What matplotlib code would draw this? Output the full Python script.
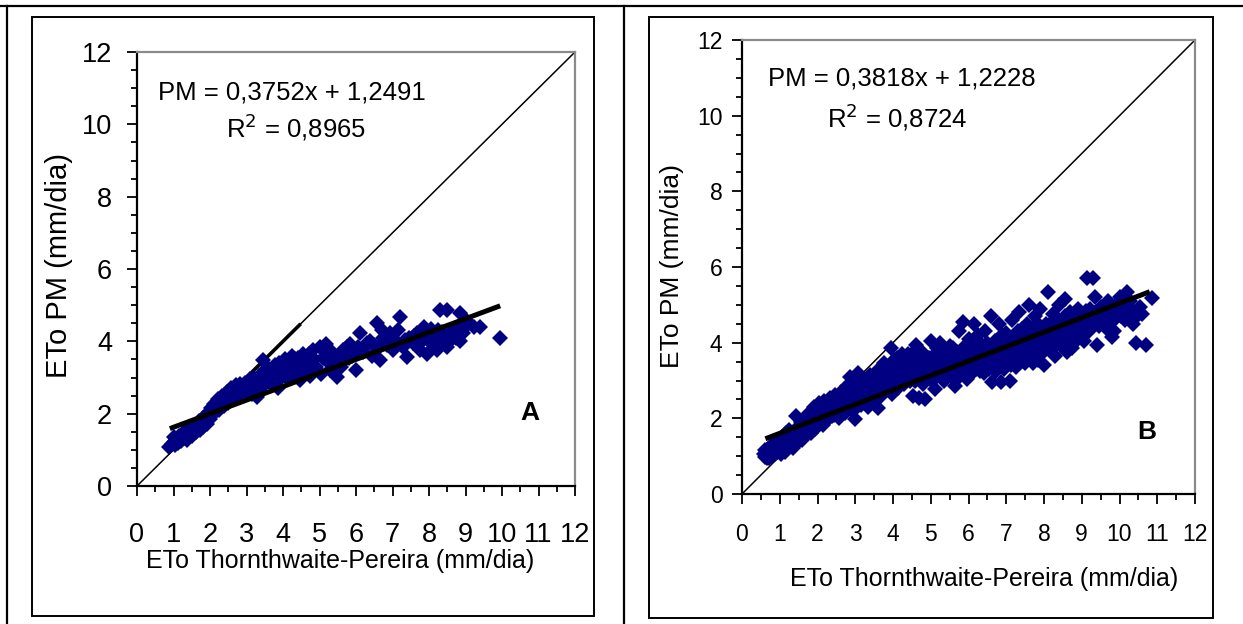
"""Two scatter panels: ETo Penman-Monteith vs ETo Thornthwaite-Pereira (A and B)."""

import matplotlib

matplotlib.use("Agg")
import matplotlib.pyplot as plt
from matplotlib.lines import Line2D
from matplotlib.patches import Rectangle
from matplotlib.ticker import MultipleLocator

plt.rcParams["font.family"] = ["Liberation Sans", "DejaVu Sans"]

# panel A points (x = ETo Thornthwaite-Pereira, y = ETo PM)
A_POINTS = [
    (0.88, 1.08), (0.95, 1.15), (1.0, 1.22), (1.05, 1.12), (1.08, 1.3), (1.12, 1.2), (1.15, 1.38),
    (1.2, 1.25), (1.22, 1.42), (1.28, 1.32), (1.3, 1.5), (1.35, 1.4), (1.38, 1.28), (1.42, 1.55),
    (1.45, 1.45), (1.5, 1.62), (1.52, 1.38), (1.56, 1.52), (1.6, 1.7), (1.62, 1.48), (1.66, 1.6),
    (1.7, 1.8), (1.72, 1.55), (1.76, 1.7), (1.8, 1.88), (1.82, 1.62), (1.86, 1.78), (1.9, 1.95),
    (1.92, 1.72), (1.96, 2.05), (2.0, 1.85), (2.04, 2.15), (2.06, 1.95), (2.1, 2.28), (2.14, 2.05),
    (2.18, 2.2), (2.22, 2.4), (2.25, 2.1), (2.3, 2.3), (2.34, 2.5), (2.38, 2.2), (2.42, 2.42),
    (2.46, 2.6), (2.5, 2.3), (2.54, 2.5), (2.58, 2.7), (2.62, 2.4), (2.66, 2.62), (2.7, 2.78),
    (2.74, 2.5), (2.78, 2.68), (2.82, 2.82), (2.86, 2.55), (2.9, 2.72), (2.95, 2.85), (3.0, 2.6),
    (3.05, 2.75), (3.1, 2.95), (3.15, 2.55), (3.2, 3.0), (3.28, 2.47), (3.3, 2.8), (3.35, 3.05),
    (3.4, 2.7), (3.46, 3.48), (3.5, 2.9), (3.55, 3.1), (3.6, 3.25), (3.64, 2.85), (3.7, 3.0),
    (3.75, 3.3), (3.8, 3.15), (3.85, 2.7), (3.9, 3.4), (3.95, 3.0), (4.0, 3.3), (4.05, 3.5),
    (4.1, 3.2), (4.15, 2.95), (4.2, 3.45), (4.25, 3.6), (4.3, 3.3), (4.35, 3.05), (4.4, 3.55),
    (4.47, 2.93), (4.5, 3.4), (4.56, 3.66), (4.6, 3.2), (4.7, 3.5), (4.75, 3.05), (4.83, 3.75),
    (4.9, 3.3), (5.0, 3.84), (5.05, 3.1), (5.1, 3.55), (5.19, 3.94), (5.25, 3.4), (5.29, 3.2),
    (5.35, 3.7), (5.47, 3.02), (5.5, 3.5), (5.6, 3.3), (5.65, 3.75), (5.74, 3.84), (5.8, 3.55),
    (5.83, 3.94), (5.9, 3.6), (6.0, 3.2), (6.05, 3.85), (6.11, 4.22), (6.2, 3.7), (6.3, 3.95),
    (6.38, 4.02), (6.45, 3.6), (6.57, 4.5), (6.62, 3.85), (6.66, 3.48), (6.75, 4.1), (6.85, 3.9),
    (6.93, 4.22), (7.0, 3.75), (7.1, 4.0), (7.21, 4.68), (7.3, 3.85), (7.39, 3.57), (7.45, 4.1),
    (7.55, 3.95), (7.67, 4.22), (7.75, 3.75), (7.85, 4.41), (7.94, 3.66), (8.0, 4.1), (8.1, 3.9),
    (8.21, 3.75), (8.25, 4.3), (8.3, 4.87), (8.4, 4.0), (8.48, 4.87), (8.5, 3.85), (8.57, 4.02),
    (8.65, 4.3), (8.75, 4.1), (8.85, 4.78), (8.9, 4.45), (8.94, 4.22), (9.0, 4.6), (9.22, 4.41),
    (9.4, 4.41), (9.95, 4.09),
    (1.0, 1.35), (1.1, 1.25), (1.18, 1.32), (1.25, 1.45), (1.4, 1.35), (1.48, 1.55), (1.58, 1.6),
    (1.68, 1.72), (1.78, 1.78), (1.88, 1.88), (1.98, 1.95), (2.08, 2.1), (2.2, 2.3), (2.32, 2.4),
    (2.44, 2.5), (2.56, 2.6), (2.68, 2.7), (2.8, 2.7), (3.12, 2.85), (3.25, 2.75), (3.38, 2.95),
    (3.52, 3.2), (3.66, 3.1), (3.78, 3.35), (3.92, 3.2), (4.02, 3.1), (4.12, 3.4), (4.22, 3.3),
    (4.32, 3.5), (4.42, 3.35), (4.52, 3.55), (4.62, 3.45), (4.72, 3.65), (4.85, 3.5), (5.15, 3.7),
    (5.4, 3.6), (5.7, 3.65), (5.95, 3.75), (6.25, 3.85), (6.5, 3.9), (6.7, 4.3), (6.95, 4.0),
    (7.15, 4.3), (7.35, 4.05), (7.6, 4.15), (7.8, 4.0), (8.05, 4.35), (8.15, 4.15), (8.35, 4.25),
    (8.6, 4.2), (8.8, 4.3), (8.85, 4.0), (9.05, 4.45),
]

# panel B points (cloud is dense, so estimated along its spread)
B_POINTS = [
    (0.58, 1.05), (0.62, 0.98), (0.65, 1.12), (0.68, 1.02), (0.7, 1.2), (0.72, 0.95), (0.75, 1.1),
    (0.78, 1.28), (0.8, 1.0), (0.83, 1.18), (0.86, 1.35), (0.88, 1.05), (0.9, 1.22), (0.93, 1.1),
    (0.96, 1.42), (0.98, 1.15), (1.0, 1.3), (1.03, 1.05), (1.06, 1.5), (1.08, 1.2), (1.1, 1.36),
    (1.13, 1.12), (1.16, 1.6), (1.18, 1.25), (1.2, 1.45), (1.24, 1.7), (1.27, 1.3), (1.3, 1.52),
    (1.34, 1.22), (1.38, 1.62), (1.42, 2.05), (1.45, 1.35), (1.48, 1.78), (1.52, 1.5), (1.55, 1.9),
    (1.6, 1.42), (1.63, 1.68), (1.67, 2.0), (1.7, 1.55), (1.74, 1.82), (1.78, 2.15), (1.82, 1.6),
    (1.85, 1.95), (1.9, 2.3), (1.93, 1.72), (1.97, 2.1), (2.0, 1.85), (2.03, 2.4), (2.07, 2.0),
    (2.1, 2.22), (2.14, 1.82), (2.18, 2.45), (2.22, 2.1), (2.26, 1.95), (2.3, 2.35), (2.34, 2.55),
    (2.38, 2.05), (2.42, 2.25), (2.46, 2.62), (2.5, 2.15), (2.54, 2.45), (2.58, 2.0), (2.62, 2.7),
    (2.66, 2.3), (2.7, 2.55), (2.74, 2.15), (2.78, 2.85), (2.82, 2.4), (2.86, 3.1), (2.9, 2.65),
    (2.94, 2.2), (2.97, 2.95), (3.0, 1.98), (3.04, 2.5), (3.08, 3.2), (3.12, 2.75), (3.16, 2.35),
    (3.2, 3.0), (3.25, 2.6), (3.3, 2.85), (3.34, 2.3), (3.38, 3.15), (3.42, 2.7), (3.46, 2.45),
    (3.5, 3.05), (3.55, 2.8), (3.6, 2.28), (3.64, 3.3), (3.68, 2.6), (3.72, 2.95), (3.76, 3.45),
    (3.8, 2.75), (3.85, 3.2), (3.9, 2.9), (3.94, 3.85), (3.97, 2.65), (4.0, 3.4), (4.05, 3.05),
    (4.1, 3.6), (4.14, 2.8), (4.18, 3.3), (4.22, 3.1), (4.26, 3.55), (4.3, 2.9), (4.35, 3.4),
    (4.4, 3.7), (4.44, 3.0), (4.48, 3.25), (4.52, 2.6), (4.56, 3.55), (4.6, 3.95), (4.64, 3.1),
    (4.68, 2.55), (4.72, 3.4), (4.76, 3.75), (4.8, 2.9), (4.85, 2.52), (4.9, 3.3), (4.95, 3.6),
    (5.0, 4.05), (5.04, 3.0), (5.08, 3.5), (5.12, 2.78), (5.16, 3.85), (5.2, 3.2), (5.25, 4.0),
    (5.3, 3.45), (5.35, 3.0), (5.4, 3.7), (5.45, 3.25), (5.5, 3.9), (5.55, 3.1), (5.6, 3.55),
    (5.65, 2.85), (5.7, 3.75), (5.75, 4.3), (5.8, 3.3), (5.85, 4.55), (5.9, 3.6), (5.95, 3.05),
    (6.0, 4.1), (6.05, 3.45), (6.1, 3.85), (6.15, 4.5), (6.2, 3.3), (6.25, 4.2), (6.3, 3.65),
    (6.35, 3.95), (6.4, 3.2), (6.45, 4.3), (6.5, 3.5), (6.55, 3.85), (6.6, 4.7), (6.62, 2.95),
    (6.66, 3.4), (6.7, 4.05), (6.75, 3.7), (6.8, 4.5), (6.85, 2.95), (6.9, 3.9), (6.95, 3.3),
    (7.0, 4.25), (7.05, 3.55), (7.1, 3.0), (7.15, 4.6), (7.2, 3.8), (7.25, 3.35), (7.3, 4.3),
    (7.35, 4.8), (7.4, 3.6), (7.45, 4.05), (7.5, 3.45), (7.55, 4.5), (7.6, 5.0), (7.65, 3.9),
    (7.7, 3.45), (7.75, 4.7), (7.8, 4.2), (7.85, 3.55), (7.9, 4.9), (7.95, 4.0), (8.0, 3.4),
    (8.05, 4.5), (8.1, 5.35), (8.15, 3.8), (8.2, 4.2), (8.25, 4.75), (8.3, 3.65), (8.35, 4.35),
    (8.4, 5.0), (8.45, 3.9), (8.5, 4.55), (8.55, 5.15), (8.6, 3.75), (8.65, 4.25), (8.7, 4.8),
    (8.75, 3.85), (8.8, 4.4), (8.85, 4.05), (8.9, 4.9), (8.95, 4.2), (9.0, 4.6), (9.05, 4.05),
    (9.1, 4.85), (9.15, 5.7), (9.2, 4.3), (9.25, 4.6), (9.3, 5.72), (9.35, 5.2), (9.4, 3.95),
    (9.45, 4.45), (9.55, 4.75), (9.6, 4.6), (9.7, 5.1), (9.8, 4.15), (9.85, 4.3), (9.9, 5.0),
    (10.0, 5.2), (10.05, 4.7), (10.15, 4.6), (10.2, 5.35), (10.3, 4.8), (10.35, 4.5), (10.45, 4.0),
    (10.55, 4.95), (10.7, 3.95), (10.85, 5.18),
    (0.6, 1.15), (0.66, 0.95), (0.74, 1.2), (0.82, 1.3), (0.92, 1.3), (1.02, 1.2), (1.12, 1.45),
    (1.22, 1.35), (1.3, 1.42), (1.36, 1.5), (1.44, 1.6), (1.5, 1.7), (1.58, 1.55), (1.65, 1.85),
    (1.72, 1.7), (1.8, 1.75), (1.88, 2.05), (1.95, 1.95), (2.02, 2.1), (2.12, 2.3), (2.2, 2.0),
    (2.28, 2.2), (2.36, 2.35), (2.44, 2.1), (2.52, 2.55), (2.6, 2.3), (2.68, 2.45), (2.76, 2.6),
    (2.84, 2.75), (2.92, 2.5), (3.02, 2.8), (3.1, 2.6), (3.18, 2.9), (3.27, 2.45), (3.36, 2.95),
    (3.44, 2.85), (3.52, 2.6), (3.6, 2.95), (3.7, 3.1), (3.78, 2.9), (3.87, 3.0), (3.96, 3.2),
    (4.04, 2.9), (4.12, 3.2), (4.2, 3.45), (4.28, 3.2), (4.36, 3.1), (4.46, 3.45), (4.54, 3.2),
    (4.62, 3.35), (4.7, 3.1), (4.78, 3.3), (4.87, 3.05), (4.95, 3.4), (5.02, 3.25), (5.1, 3.7),
    (5.18, 3.35), (5.27, 3.6), (5.36, 3.3), (5.44, 3.55), (5.52, 3.4), (5.6, 3.7), (5.68, 3.5),
    (5.76, 3.1), (5.84, 3.8), (5.92, 3.35), (6.0, 3.6), (6.08, 3.2), (6.16, 3.95), (6.24, 3.55),
    (6.32, 3.4), (6.4, 3.75), (6.48, 4.0), (6.56, 3.6), (6.64, 3.9), (6.72, 3.25), (6.8, 3.6),
    (6.88, 4.2), (6.96, 3.7), (7.04, 4.0), (7.12, 3.4), (7.2, 4.1), (7.28, 3.7), (7.36, 4.2),
    (7.44, 3.85), (7.52, 4.25), (7.6, 3.7), (7.68, 4.4), (7.76, 4.0), (7.84, 4.3), (7.92, 3.7),
    (8.0, 4.25), (8.08, 3.95), (8.16, 4.5), (8.24, 4.0), (8.32, 4.6), (8.4, 4.2), (8.48, 4.05),
    (8.56, 4.7), (8.64, 4.0), (8.72, 4.5), (8.8, 4.15), (8.88, 4.6), (8.96, 4.4), (9.04, 4.3),
    (9.12, 4.5), (9.22, 4.9), (9.32, 4.7), (9.5, 4.95), (9.65, 4.4), (9.75, 4.85), (9.95, 4.8),
    (10.1, 5.0), (10.25, 4.95), (10.4, 4.65), (10.6, 4.75),
    (0.7, 1.1), (0.85, 1.15), (1.05, 1.4), (1.15, 1.3), (1.28, 1.6), (1.4, 1.45), (1.54, 1.65),
    (1.62, 1.8), (1.76, 1.95), (1.86, 1.7), (1.98, 2.25), (2.08, 1.9), (2.16, 2.15), (2.24, 2.3),
    (2.32, 2.1), (2.4, 2.45), (2.48, 2.4), (2.56, 2.25), (2.64, 2.55), (2.72, 2.7), (2.8, 2.3),
    (2.88, 2.85), (2.96, 2.6), (3.06, 3.0), (3.14, 2.5), (3.22, 2.75), (3.32, 3.05), (3.4, 2.55),
    (3.48, 2.75), (3.58, 3.15), (3.66, 2.85), (3.74, 3.25), (3.82, 3.05), (3.92, 2.8), (4.02, 3.55),
    (4.08, 3.25), (4.16, 3.0), (4.24, 3.7), (4.32, 3.35), (4.42, 3.2), (4.5, 3.7), (4.58, 3.0),
    (4.66, 3.6), (4.74, 3.2), (4.82, 3.5), (4.92, 3.15), (5.06, 3.35), (5.14, 3.1), (5.22, 3.65),
    (5.32, 3.2), (5.42, 3.5), (5.5, 3.2), (5.58, 3.85), (5.66, 3.3), (5.74, 3.6), (5.82, 3.5),
    (5.9, 3.9), (5.98, 3.35), (6.06, 3.7), (6.14, 3.4), (6.22, 3.9), (6.3, 3.25), (6.38, 3.6),
    (6.46, 3.85), (6.54, 3.3), (6.62, 3.7), (6.7, 3.5), (6.78, 4.0), (6.86, 3.6), (6.94, 3.95),
    (7.02, 3.45), (7.1, 3.85), (7.18, 3.55), (7.26, 4.0), (7.34, 3.5), (7.42, 4.35), (7.5, 3.75),
    (7.58, 4.0), (7.66, 3.6), (7.74, 4.25), (7.82, 3.85), (7.9, 4.45), (7.98, 3.75), (8.06, 4.05),
    (8.14, 4.3), (8.22, 3.85), (8.3, 4.1), (8.38, 4.45), (8.46, 4.2), (8.54, 4.35), (8.62, 4.55),
    (8.7, 4.1), (8.78, 4.65), (8.86, 4.3), (8.94, 4.7), (9.02, 4.2), (9.1, 4.4), (9.18, 4.75),
    (9.28, 4.45), (9.38, 4.8), (9.48, 4.6), (9.58, 4.95), (9.68, 4.75), (9.78, 4.55), (9.9, 4.65),
    (10.02, 4.9), (10.12, 5.1), (10.28, 5.1),
]

# fitted lines: slope, intercept, x range of the drawn line
A_FIT = (0.3752, 1.2491)
B_FIT = (0.3818, 1.2228)
A_FIT_RANGE = (0.9, 9.95)
B_FIT_RANGE = (0.62, 10.8)
A_DIAG_THICK = (2.95, 4.45)  # short thicker stretch of the 1:1 line in panel A

A_EQUATION = ["PM = 0,3752x + 1,2491", "R$^2$ = 0,8965"]
B_EQUATION = ["PM = 0,3818x + 1,2228", "R$^2$ = 0,8724"]

AXIS_MAX = 12
X_LABEL = "ETo Thornthwaite-Pereira (mm/dia)"
Y_LABEL = "ETo PM (mm/dia)"

NAVY = "#000080"
W, H = 1243, 624


def px_rect(x0, y0, x1, y1):
    """Figure-fraction [left, bottom, width, height] from pixel corners."""
    return [x0 / W, 1 - y1 / H, (x1 - x0) / W, (y1 - y0) / H]


def draw_panel(ax, points, fit, fit_range, equation, letter, sizes, eq_pos, letter_pos):
    tick_fs, label_fs, ylabel_fs, eq_fs, xpad, ypad = sizes
    ax.set_xlim(0, AXIS_MAX)
    ax.set_ylim(0, AXIS_MAX)

    ax.plot([0, AXIS_MAX], [0, AXIS_MAX], color="black", lw=1.1, zorder=2, clip_on=False)

    xs = [p[0] for p in points]
    ys = [p[1] for p in points]
    ax.plot(xs, ys, linestyle="none", marker="D", markersize=8.4, color=NAVY,
            markeredgewidth=0, zorder=3, clip_on=False)

    slope, intercept = fit
    fx = list(fit_range)
    fy = [slope * v + intercept for v in fx]
    ax.plot(fx, fy, color="black", lw=3.6, solid_capstyle="butt", zorder=4)

    ax.xaxis.set_major_locator(MultipleLocator(1))
    ax.xaxis.set_minor_locator(MultipleLocator(0.5))
    ax.yaxis.set_major_locator(MultipleLocator(2))
    ax.yaxis.set_minor_locator(MultipleLocator(0.5))
    ax.tick_params(which="major", direction="out", length=7, width=1.3, labelsize=tick_fs)
    ax.tick_params(which="minor", direction="out", length=4.5, width=1.3)
    ax.tick_params(axis="x", which="major", pad=xpad)
    ax.tick_params(axis="y", which="major", pad=ypad)

    for side in ("left", "bottom"):
        ax.spines[side].set_color("black")
        ax.spines[side].set_linewidth(1.6)
    for side in ("top", "right"):
        ax.spines[side].set_color("#8a8a8a")
        ax.spines[side].set_linewidth(1.6)

    ax.set_xlabel(X_LABEL, fontsize=label_fs)
    ax.set_ylabel(Y_LABEL, fontsize=ylabel_fs)

    (x1, y1), (x2, y2) = eq_pos
    ax.text(x1, y1, equation[0], fontsize=eq_fs, ha="left", va="center")
    ax.text(x2, y2, equation[1], fontsize=eq_fs, ha="left", va="center")
    ax.text(letter_pos[0], letter_pos[1], letter, fontsize=19, fontweight="bold",
            ha="center", va="center")


def main() -> None:
    fig = plt.figure(figsize=(W / 100, H / 100), dpi=100)

    # table-like frame around the two panels
    fig.add_artist(Line2D([0, 1], [1 - 5.5 / H, 1 - 5.5 / H], transform=fig.transFigure,
                          color="black", lw=1.6))
    for xp in (7, 624):
        fig.add_artist(Line2D([xp / W, xp / W], [0, 1 - 5.5 / H], transform=fig.transFigure,
                              color="black", lw=1.6))
    for x0, x1, y1 in ((32, 594, 616), (649, 1213, 618)):
        l, b, w, h = px_rect(x0, 17, x1, y1)
        fig.add_artist(Rectangle((l, b), w, h, transform=fig.transFigure,
                                 fill=False, edgecolor="black", lw=1.4))

    ax_a = fig.add_axes(px_rect(137, 52, 575, 486))
    ax_b = fig.add_axes(px_rect(742, 40, 1195, 494))

    draw_panel(ax_a, A_POINTS, A_FIT, A_FIT_RANGE, A_EQUATION, "A",
               (19.5, 18, 21, 18.5, 19, 11), ((0.58, 10.87), (2.45, 9.93)), (10.77, 2.02))
    lo, hi = A_DIAG_THICK
    ax_a.plot([lo, hi], [lo, hi], color="black", lw=2.6, zorder=2)
    ax_a.xaxis.set_label_coords(0.463, -0.145)
    ax_a.yaxis.set_label_coords(-0.147, 0.507)

    draw_panel(ax_b, B_POINTS, B_FIT, B_FIT_RANGE, B_EQUATION, "B",
               (16.5, 18, 19, 18.5, 14, 7), ((0.69, 10.97), (2.25, 9.97)), (10.73, 1.64))
    ax_b.xaxis.set_label_coords(0.534, -0.16)
    ax_b.yaxis.set_label_coords(-0.128, 0.503)

    fig.savefig("out.png", dpi=100)


if __name__ == "__main__":
    main()
